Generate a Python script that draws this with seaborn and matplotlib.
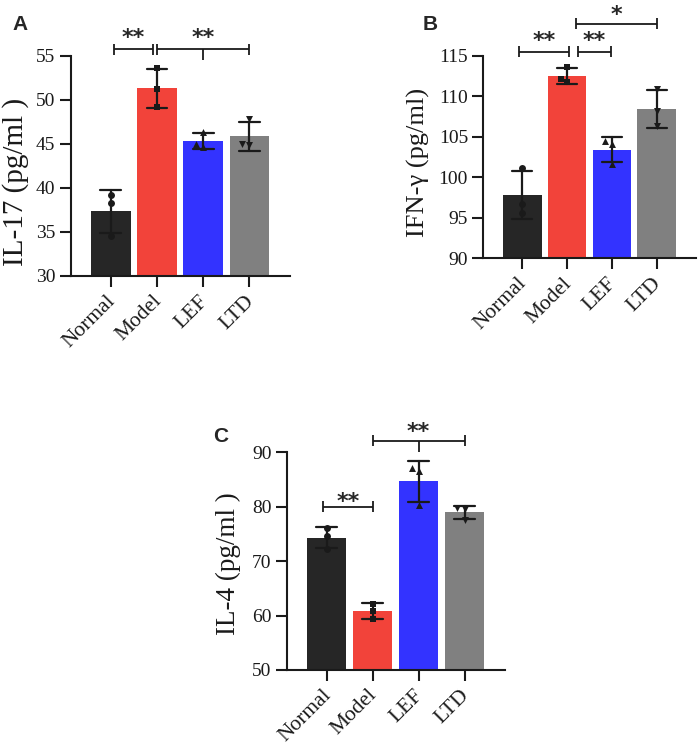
import numpy as np
import pandas as pd
import matplotlib
matplotlib.use("Agg")
import matplotlib.pyplot as plt
import matplotlib.transforms as mtransforms
import seaborn as sns

# ---------------- data ----------------
groups = ["Normal", "Model", "LEF", "LTD"]
colors = ["#262626", "#F2433A", "#3333FF", "#808080"]
markers = ["o", "s", "^", "v"]

il17_normal = [39.2, 38.3, 34.6]
il17_model = [53.6, 51.2, 49.2]
il17_lef = [46.4, 44.7, 45.0]
il17_ltd = [47.8, 44.9, 45.0]

ifn_normal = [101.2, 96.7, 95.6]
ifn_model = [113.7, 111.8, 112.2]
ifn_lef = [104.5, 104.1, 101.7]
ifn_ltd = [110.9, 108.2, 106.3]

il4_normal = [76.0, 74.6, 72.2]
il4_model = [62.2, 60.9, 59.3]
il4_lef = [87.1, 86.6, 80.3]
il4_ltd = [79.6, 79.8, 77.6]

# significance brackets: (x start, x end, line y, text, text y, middle tick x)
brackets_a = [(0.06, 0.91, 55.76, "**", 57.76, None),
              (1.01, 3.0, 55.76, "**", 57.76, 2)]
brackets_b = [(-0.075, 1.045, 115.53, "**", 117.6, None),
              (1.24, 1.985, 115.53, "**", 117.6, None),
              (1.21, 3.0, 118.96, "*", 120.9, None)]
brackets_c = [(-0.07, 1.0, 80.0, "**", 82.15, None),
              (1.0, 3.0, 92.13, "**", 95.0, 2)]

# ---------------- style ----------------
sns.set_theme(style="ticks")
plt.rcParams["font.family"] = ["Liberation Serif", "DejaVu Serif"]
plt.rcParams["axes.linewidth"] = 1.5

W, H = 699, 747
fig = plt.figure(figsize=(W / 100, H / 100), dpi=100)


def rect(l, r, t, b):
    return [l / W, 1 - b / H, (r - l) / W, (b - t) / H]


def panel(box, values, ylim, yticks, ylabel, ylsize, lab_xy, brackets):
    ax = fig.add_axes(box)
    df = pd.DataFrame({"group": np.repeat(groups, [len(v) for v in values]),
                       "value": np.concatenate(values)})
    sns.barplot(data=df, x="group", y="value", order=groups, hue="group",
                hue_order=groups, palette=colors, legend=False,
                errorbar="sd", capsize=0.45, width=0.86, saturation=1,
                err_kws={"color": "k", "linewidth": 1.6}, linewidth=0, ax=ax)
    for g, m in zip(groups, markers):
        sns.swarmplot(data=df[df.group == g], x="group", y="value",
                      order=groups, marker=m, color="k", size=5,
                      linewidth=0, ax=ax, zorder=3)
    ax.set_xlim(-0.87, 3.88)
    ax.set_ylim(*ylim)
    ax.set_yticks(yticks)
    ax.set_yticklabels([str(t) for t in yticks], fontsize=14)
    ax.set_xticks(range(len(groups)))
    ax.set_xticklabels(groups, rotation=45, ha="right", va="baseline",
                       rotation_mode="anchor", fontsize=15.5)
    ax.tick_params(axis="both", length=8, width=1.5, direction="out",
                   colors="k", pad=3)
    ax.tick_params(axis="x", pad=10.5)
    shift = mtransforms.ScaledTranslation(3.6 / 72, 0, fig.dpi_scale_trans)
    for t in ax.get_xticklabels():
        t.set_transform(t.get_transform() + shift)
    ax.set_xlabel("")
    ax.set_ylabel(ylabel, fontsize=ylsize, color="k")
    ax.yaxis.set_label_coords(*lab_xy)
    sns.despine(ax=ax)
    for s in ["left", "bottom"]:
        ax.spines[s].set_color("k")
        ax.spines[s].set_linewidth(1.5)

    # bracket geometry in data units
    px_per_unit = box[3] * H / (ylim[1] - ylim[0])
    cap = 5.5 / px_per_unit
    for x1, x2, y, txt, ty, mid in brackets:
        kw = dict(color="k", linewidth=1.3, clip_on=False, solid_capstyle="butt")
        ax.plot([x1, x2], [y, y], **kw)
        ax.plot([x1, x1], [y - cap, y + cap], **kw)
        ax.plot([x2, x2], [y - cap, y + cap], **kw)
        if mid is not None:
            ax.plot([mid, mid], [y, y - 2 * cap], **kw)
        ax.annotate(txt, xy=((x1 + x2) / 2, ty), xytext=(0, -9),
                    textcoords="offset points", ha="center", va="baseline",
                    fontsize=16, fontweight="bold", family="DejaVu Sans",
                    annotation_clip=False)
    return ax


panel(rect(70.7, 290, 56, 276),
      [il17_normal, il17_model, il17_lef, il17_ltd],
      (30, 55), [30, 35, 40, 45, 50, 55], "IL-17 (pg/ml )", 21,
      (-0.188, 0.427), brackets_a)
panel(rect(483.3, 696, 56, 258.3),
      [ifn_normal, ifn_model, ifn_lef, ifn_ltd],
      (90, 115), [90, 95, 100, 105, 110, 115], "IFN-γ (pg/ml)", 19,
      (-0.25, 0.476), brackets_b)
panel(rect(286.7, 505, 452.3, 670),
      [il4_normal, il4_model, il4_lef, il4_ltd],
      (50, 90), [50, 60, 70, 80, 90], "IL-4 (pg/ml )", 19.5,
      (-0.209, 0.489), brackets_c)

for lab, x, y in [("A", 20, 25), ("B", 430, 25), ("C", 221, 436)]:
    fig.text(x / W, 1 - y / H, lab, ha="center", va="center", fontsize=15,
             fontweight="bold", family="Liberation Sans")

fig.savefig("out.png", dpi=100)
